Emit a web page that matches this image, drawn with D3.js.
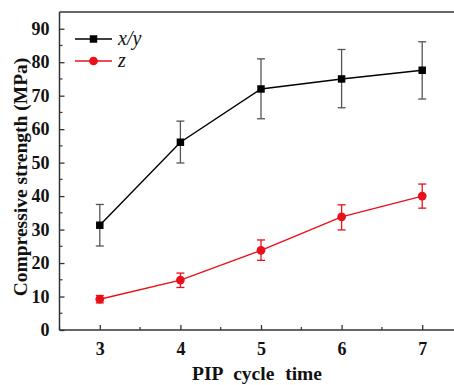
<!DOCTYPE html>
<html><head><meta charset="utf-8">
<script src="https://cdn.jsdelivr.net/npm/d3@7"></script>
<style>body{margin:0;background:#fff;}svg{display:block;}</style>
</head><body>
<svg id="c" width="454" height="385"></svg>
<script>
const cycles = [3, 4, 5, 6, 7];
const xyMean = [31.3, 56.1, 72.0, 75.0, 77.6];
const xyLow  = [25.1, 49.9, 63.1, 66.4, 69.0];
const xyHigh = [37.5, 62.4, 81.0, 83.8, 86.1];
const zMean = [9.2, 14.9, 23.8, 33.8, 40.0];
const zLow  = [8.1, 12.7, 20.8, 29.9, 36.4];
const zHigh = [10.3, 17.0, 26.9, 37.4, 43.6];
const yTicks = [0, 10, 20, 30, 40, 50, 60, 70, 80, 90];
const seriesNames = ["x/y", "z"];

const svg = d3.select("#c");
const L = 59.5, T = 12, B = 330;
const x = d3.scaleLinear().domain([2.5, 7.5]).range([L, L + 403]);
const y = d3.scaleLinear().domain([0, 95]).range([B, T]);
const serif = '"Liberation Serif"';

// frame top
svg.append("line").attr("x1", L).attr("x2", 454).attr("y1", T).attr("y2", T)
  .attr("stroke", "#333").attr("stroke-width", 1.5);

// y axis
const yAx = svg.append("g").attr("transform", `translate(${L},0)`)
  .call(d3.axisLeft(y).tickValues(yTicks).tickSize(-5).tickPadding(10).tickFormat(d3.format("d")));
yAx.attr("font-family", serif).attr("font-size", 18);
yAx.select(".domain").attr("stroke", "#333").attr("stroke-width", 1.5).attr("d", `M0,${T}V${B}`);
yAx.selectAll(".tick line").attr("stroke", "#333").attr("stroke-width", 1.3);
yAx.selectAll("text").style("font-family", serif).attr("font-weight", "bold").attr("font-size", 18).attr("fill", "#111");
const yMinor = d3.range(5, 95, 10);
svg.append("g").selectAll("line").data(yMinor).join("line")
  .attr("x1", L).attr("x2", L + 3).attr("y1", d => y(d)).attr("y2", d => y(d))
  .attr("stroke", "#333").attr("stroke-width", 1.2);

// x axis
const xAx = svg.append("g").attr("transform", `translate(0,${B})`)
  .call(d3.axisBottom(x).tickValues(cycles).tickSize(-5).tickPadding(12).tickFormat(d3.format("d")));
xAx.attr("font-family", serif).attr("font-size", 18);
xAx.select(".domain").attr("stroke", "#333").attr("stroke-width", 1.5).attr("d", `M${L},0H454`);
xAx.selectAll(".tick line").attr("stroke", "#333").attr("stroke-width", 1.3);
xAx.selectAll("text").style("font-family", serif).attr("font-weight", "bold").attr("font-size", 18).attr("fill", "#111");
const xMinor = [2.5, 3.5, 4.5, 5.5, 6.5, 7.5];
svg.append("g").selectAll("line").data(xMinor).join("line")
  .attr("x1", d => x(d)).attr("x2", d => x(d)).attr("y1", B).attr("y2", B - 3)
  .attr("stroke", "#333").attr("stroke-width", 1.2);

// axis titles
svg.append("text").attr("x", 257).attr("y", 380).attr("text-anchor", "middle")
  .style("font-family", serif).attr("font-weight", "bold").attr("font-size", 19.5)
  .attr("word-spacing", 6).attr("fill", "#111").text("PIP cycle time");
svg.append("text").attr("transform", `translate(27,${(T + B) / 2 + 6}) rotate(-90)`)
  .attr("text-anchor", "middle").style("font-family", serif).attr("font-weight", "bold")
  .attr("font-size", 19.5).attr("fill", "#111").text("Compressive strength (MPa)");

function drawSeries(mean, low, high, color, errColor, shape) {
  const g = svg.append("g");
  const line = d3.line().x((d, i) => x(cycles[i])).y(d => y(d));
  g.append("path").attr("d", line(mean)).attr("fill", "none").attr("stroke", color).attr("stroke-width", 1.4);
  cycles.forEach((c, i) => {
    const cx = x(c);
    g.append("line").attr("x1", cx).attr("x2", cx).attr("y1", y(low[i])).attr("y2", y(high[i]))
      .attr("stroke", errColor).attr("stroke-width", 1.3);
    [low[i], high[i]].forEach(v => g.append("line").attr("x1", cx - 4).attr("x2", cx + 4)
      .attr("y1", y(v)).attr("y2", y(v)).attr("stroke", errColor).attr("stroke-width", 1.3));
  });
  const sym = d3.symbol().type(shape === "square" ? d3.symbolSquare : d3.symbolCircle)
    .size(shape === "square" ? 56 : 60);
  g.selectAll("path.m").data(mean).join("path").attr("class", "m")
    .attr("transform", (d, i) => `translate(${x(cycles[i])},${y(d)})`)
    .attr("d", sym).attr("fill", color);
}
drawSeries(xyMean, xyLow, xyHigh, "#000", "#555", "square");
drawSeries(zMean, zLow, zHigh, "#e8101a", "#e8101a", "circle");

// legend
const leg = [
  {name: seriesNames[0], color: "#000", shape: d3.symbolSquare, size: 56, yy: 39},
  {name: seriesNames[1], color: "#e8101a", shape: d3.symbolCircle, size: 60, yy: 61}
];
leg.forEach(d => {
  svg.append("line").attr("x1", 75).attr("x2", 112).attr("y1", d.yy).attr("y2", d.yy)
    .attr("stroke", d.color).attr("stroke-width", 1.4);
  svg.append("path").attr("transform", `translate(93.5,${d.yy})`)
    .attr("d", d3.symbol().type(d.shape).size(d.size)).attr("fill", d.color);
  svg.append("text").attr("x", 118).attr("y", d.yy + 6).style("font-family", serif)
    .attr("font-style", "italic").attr("font-size", 20).attr("fill", "#111").text(d.name);
});
</script>
</body></html>
